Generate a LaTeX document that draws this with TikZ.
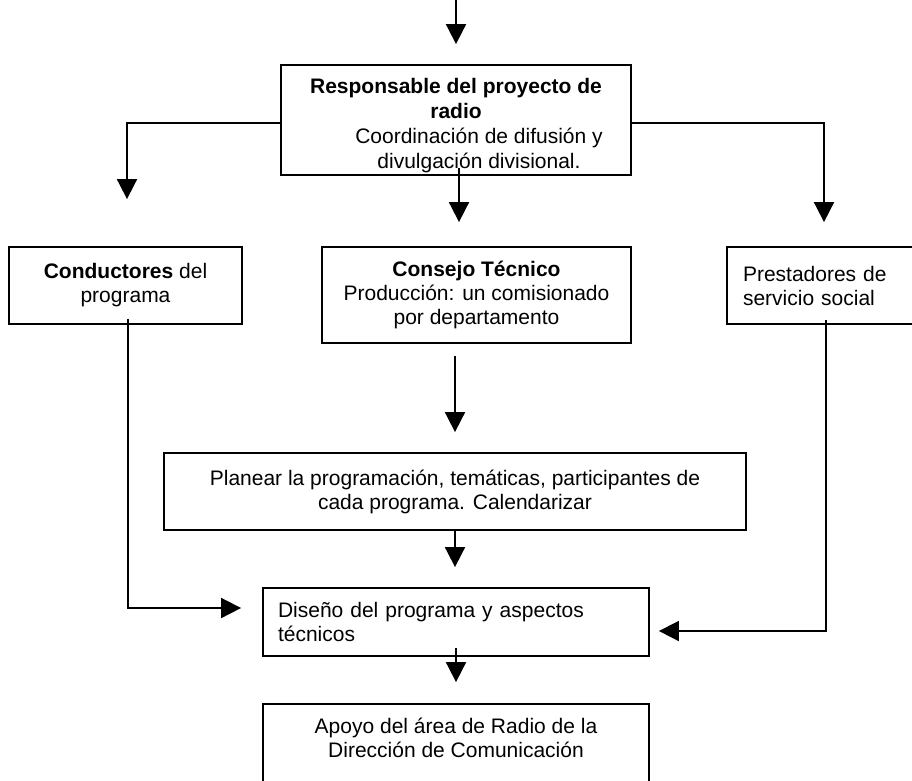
\documentclass[tikz,border=0pt]{standalone}
\usepackage{fontspec}
\setmainfont{Liberation Sans}
\usetikzlibrary{arrows.meta}
\tikzset{
  caja/.style={draw, line width=1.8pt, inner sep=0pt, align=center,
    font=\fontsize{21}{24}\selectfont},
  flecha/.style={line width=1.8pt, -{Triangle[length=20pt,width=20pt]}},
}

\begin{document}
\begin{tikzpicture}[x=1pt,y=-1pt]
		\useasboundingbox (0,0) rectangle (912,780);
		\clip (0,0) rectangle (912,780);
		
		%%%%% CAJAS %%%%%
		\coordinate (entrada) at (456,-5);
		\node[caja, font=\fontsize{21}{25}\selectfont, minimum width=350pt, minimum height=110pt] (resp) at (456,120)
			{\rule{0pt}{27pt}\textbf{Responsable del proyecto de}\\\textbf{radio}\\
			 \hspace*{46pt}Coordinación de difusión y\\\hspace*{46pt}divulgación divisional.};
		
		\node[caja, minimum width=233pt, minimum height=77pt] (cond) at (125.5,285.5)
			{\textbf{Conductores} del\\programa};
		\node[caja, minimum width=309pt, minimum height=96pt] (cons) at (476.5,295)
			{\textbf{Consejo Técnico}\\Producción: un comisionado\\por departamento};
		\node[caja, align=left, text width=162pt, inner xsep=16pt,
			minimum height=77pt] (prest) at (824,285.5)
			{Prestadores de\\servicio social};
		
		\node[caja, minimum width=582pt, minimum height=77pt] (plan) at (455,491.5)
			{Planear la programación, temáticas, participantes de\\cada programa. Calendarizar};
		\node[caja, align=left, text width=356pt, inner xsep=15pt,
			minimum height=68pt] (dis) at (456,622)
			{Diseño del programa y aspectos\\técnicos};
		\node[caja, minimum width=386pt, minimum height=116pt] (apoyo) at (456,762)
			{Apoyo del área de Radio de la\\Dirección de Comunicación\\ \mbox{}\\ \mbox{}};
		
		%%%%% FLECHAS %%%%%
		\draw[flecha, shorten >=20pt] (entrada) -- (resp.north);
		\draw[flecha, shorten >=47pt] ([yshift=-3pt]resp.west) -| ([xshift=1.5pt]cond.north);
		\draw[flecha, shorten >=24pt] ([yshift=-3pt]resp.east) -| (prest.north);
		\draw[flecha, shorten >=24pt] ([xshift=3pt,yshift=8pt]resp.south) -- ([xshift=3pt]resp.south |- cons.north);
		
		\draw[flecha, shorten <=12pt, shorten >=20pt] (cons.south -| plan.north) -- (plan.north);
		\draw[flecha, shorten >=20pt] (plan.south) -- (plan.south |- dis.north);
		\draw[flecha, shorten <=-9pt, shorten >=21pt] (dis.south) -- (apoyo.north);
		
		\draw[flecha, shorten >=21pt] ([xshift=2.5pt,yshift=6pt]cond.south) |- ([yshift=14pt]dis.west);
		\draw[flecha, shorten >=9pt] ([xshift=2pt,yshift=5pt]prest.south) |- ([yshift=-9pt]dis.east);
\end{tikzpicture}
\end{document}
